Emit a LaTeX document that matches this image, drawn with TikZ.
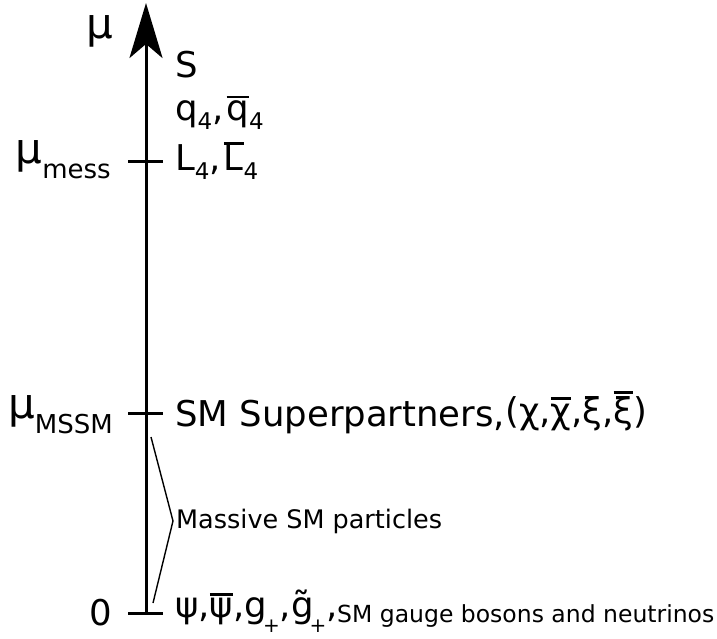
\documentclass[tikz,border=0pt]{standalone}
\usepackage{fontspec}
\setmainfont{DejaVu Sans}
\usetikzlibrary{arrows.meta, positioning}

% lowered index: [shift]{size}{text}
\newcommand{\lowsub}[3][9pt]{\raisebox{-#1}{\fontsize{#2}{#2}\selectfont #3}}
% bar at a fixed height over a letter
\newcommand{\barred}[2][0.64em]{\setbox0=\hbox{#2}\rlap{\rule[#1]{\wd0}{0.07em}}\box0}

\begin{document}
\begin{tikzpicture}[x=1pt, y=-1pt,
    lbl/.style={inner sep=0pt, font=\fontsize{35.5}{40}\selectfont},
    mulbl/.style={inner sep=0pt, font=\fontsize{42}{48}\selectfont},
    smalllbl/.style={inner sep=0pt, font=\fontsize{25.5}{28}\selectfont},
    scaletick/.style={line width=3pt}]
      \useasboundingbox (0,0) rectangle (717,638);

      % energy axis
      \coordinate (zero) at (146,613);
      \coordinate (top) at (146,3);
      \coordinate (mssm) at (146,413);
      \coordinate (mess) at (146,161);
      \draw[line width=3pt, -{Stealth[length=55pt, width=33pt, inset=14pt]}] (zero) -- (top);
      \foreach \t in {zero,mssm,mess}
        \draw[scaletick] ([xshift=-18pt]\t) -- ([xshift=17pt]\t);

      % scale names
      \node[mulbl, anchor=base west] (mu) at (86,38) {μ};
      \node[mulbl, anchor=base east] (mumess) at (111,163) {μ\lowsub[15pt]{26}{mess}};
      \node[mulbl, anchor=base east] (mumssm) at (113,418) {μ\lowsub[15pt]{26}{MSSM}};
      \node[lbl, anchor=base east] (nought) at (112,625) {0};

      % particle content
      \node[lbl, anchor=base west] (singlet) at (175,77) {S};
      \node[lbl, anchor=base west] (quarks) at (175,120)
        {q\lowsub{23}{4},\hspace{3pt}\barred[0.62em]{q}\lowsub{23}{4}};
      \node[lbl, anchor=base west] (leptons) at (175,170)
        {L\lowsub{23}{4},\hspace{3pt}\barred[0.71em]{L}\lowsub{23}{4}};
      \node[lbl, anchor=base west] (partners) at (175,426)
        {SM Superpartners,\raisebox{3pt}{(χ,\barred[0.66em]{χ},ξ,\barred[0.82em]{ξ})}};
      \node[smalllbl, anchor=base west] (massive) at (176,528) {Massive SM particles};
      \node[lbl, anchor=base west] (light) at (175,617)
        {ψ,\barred[0.6em]{ψ},g\kern-4pt\lowsub[15pt]{20}{+},g̃\kern-4pt\lowsub[15pt]{20}{+},};
      \node[smalllbl, anchor=base west, font=\fontsize{23.5}{28}\selectfont] (gauge) at (337,622)
        {SM gauge bosons and neutrinos};

      % brace for the massive states
      \coordinate (brtop) at (151,437);
      \coordinate (brbot) at (153,603);
      \draw[line width=1.4pt] (brtop) -- ([xshift=-3pt]massive.west) -- (brbot);
    \end{tikzpicture}
\end{document}
